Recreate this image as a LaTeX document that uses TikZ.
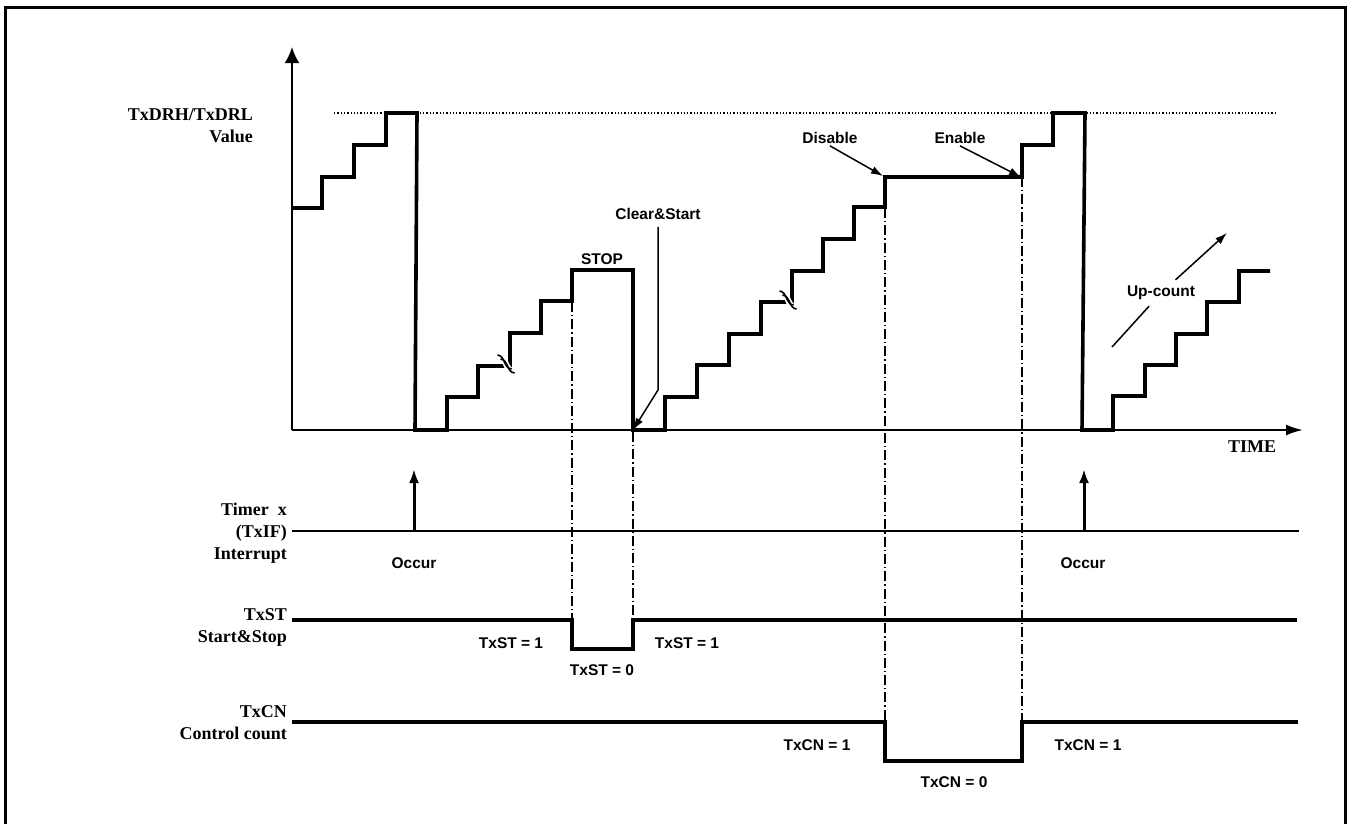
\documentclass[tikz,border=0pt]{standalone}
\usepackage{fontspec}
\setmainfont{Liberation Serif}
\setsansfont{Liberation Sans}
\usepackage{tikz}
\usetikzlibrary{arrows.meta,positioning}

\begin{document}
\begin{tikzpicture}[
    x=1pt, y=-1pt,
    lbl/.style={font=\bfseries\fontsize{18}{22}\selectfont, align=right, anchor=east, inner sep=0pt},
    tag/.style={font=\sffamily\bfseries\fontsize{15.5}{18}\selectfont, inner sep=2pt},
    frame/.style={line width=3pt},
    axis/.style={line width=2.2pt},
    stairs/.style={line width=3.6pt, line join=miter},
    wave/.style={line width=3.4pt},
    irqline/.style={line width=2.2pt},
    irq/.style={-{Latex[length=14pt, width=10pt]}, line width=3pt},
    note/.style={-{Latex[length=12pt, width=8pt]}, line width=1.5pt},
    guide/.style={line width=1.3pt, dash pattern=on 10pt off 3pt on 1.3pt off 3pt},
    maxline/.style={line width=1.2pt, dash pattern=on 1.3pt off 2pt}
]
\useasboundingbox (0,0) rectangle (1349,823);
\draw[frame] (5,830) -- (5,7) -- (1345,7) -- (1345,830);

\coordinate (origin) at (292,430);
\coordinate (ytip) at (292,47);
\coordinate (xtip) at (1303,430);
\draw[maxline] (334,113) -- (1275,113);
\draw[axis, -{Latex[length=16pt, width=15pt]}] (origin) -- (ytip);
\draw[axis, -{Latex[length=17pt, width=11pt]}] (origin) -- (xtip);

\draw[guide] (572,302) -- (572,620);
\draw[guide] (633,432) -- (633,620);
\draw[guide] (885,208) -- (885,722);
\draw[guide] (1022,177) -- (1022,722);

\draw[stairs] (292,208) -- (322,208) -- (322,177) -- (354,177) -- (354,145) -- (386,145)
    -- (386,113) -- (417,113) -- (415,430) -- (447,430) -- (447,397) -- (478,397)
    -- (478,366) -- (510,366) -- (510,333) -- (541,333) -- (541,301) -- (572,301)
    -- (572,270) -- (633,270) -- (633,430) -- (665,430) -- (665,397) -- (697,397)
    -- (697,365) -- (729,365) -- (729,334) -- (761,334) -- (761,302) -- (792,302)
    -- (792,271) -- (823,271) -- (823,239) -- (854,239) -- (854,207) -- (885,207)
    -- (885,177) -- (1022,177) -- (1022,145) -- (1053,145) -- (1053,113) -- (1085,113)
    -- (1082,430) -- (1113,430) -- (1113,396) -- (1145,396) -- (1145,365) -- (1176,365)
    -- (1176,334) -- (1207,334) -- (1207,302) -- (1239,302) -- (1239,271) -- (1270,271);

\begin{scope}[shift={(506,364)}]
\draw[white, line width=6pt] (-7,-7) .. controls (1,-6) and (-1,6) .. (7,7);
\draw[line width=1.6pt] (-8.5,-9) .. controls (-0.5,-8) and (-2.5,4) .. (5.5,5);
\draw[line width=1.6pt] (-5.5,-5) .. controls (2.5,-4) and (0.5,8) .. (8.5,9);
\end{scope}
\begin{scope}[shift={(788,300)}]
\draw[white, line width=6pt] (-7,-7) .. controls (1,-6) and (-1,6) .. (7,7);
\draw[line width=1.6pt] (-8.5,-9) .. controls (-0.5,-8) and (-2.5,4) .. (5.5,5);
\draw[line width=1.6pt] (-5.5,-5) .. controls (2.5,-4) and (0.5,8) .. (8.5,9);
\end{scope}

\node[lbl] (val) at (253,126) {TxDRH/TxDRL\\Value};
\node[lbl] (timer) at (287,533) {Timer\ \ x\\(TxIF)\\Interrupt};
\node[lbl] (txst) at (287,627) {TxST\\Start\&Stop};
\node[lbl] (txcn) at (287,723) {TxCN\\Control count};
\node[font=\bfseries\fontsize{18}{22}\selectfont] (time) at (1252,447) {TIME};

\node[tag] (stop) at (602,259) {STOP};
\node[tag] (clr) at (658,214) {Clear\&Start};
\node[tag] (dis) at (830,138) {Disable};
\node[tag] (ena) at (960,138) {Enable};
\node[tag, inner sep=6pt] (upc) at (1161,293) {Up-count};
\node[tag] (occ1) at (414,563) {Occur};
\node[tag] (occ2) at (1083,563) {Occur};
\node[tag] (st1) at (511,643) {TxST = 1};
\node[tag] (st0) at (602,670) {TxST = 0};
\node[tag] (st1b) at (687,643) {TxST = 1};
\node[tag] (cn1) at (817,745) {TxCN = 1};
\node[tag] (cn0) at (954,782) {TxCN = 0};
\node[tag] (cn1b) at (1088,745) {TxCN = 1};

\coordinate (clrbend) at (658,390);
\coordinate (clrtip) at (633,430);
\coordinate (distip) at (883,176);
\coordinate (enatip) at (1021,177);
\coordinate (ucs) at (1112,347);
\coordinate (uce) at (1227,233);
\draw[note, shorten <=5pt] (clr.south) -- (clrbend) -- (clrtip);
\draw[note] (dis.south) -- (distip);
\draw[note] (ena.south) -- (enatip);
\draw[line width=1.5pt] (ucs) -- (upc);
\draw[note] (upc) -- (uce);

\draw[irqline] (292,531) -- (1299,531);
\coordinate (irq1) at (414,531);
\coordinate (irq1t) at (414,469);
\coordinate (irq2) at (1084,531);
\coordinate (irq2t) at (1084,469);
\draw[irq] (irq1) -- (irq1t);
\draw[irq] (irq2) -- (irq2t);

\draw[wave] (292,620) -- (572,620) -- (572,649) -- (633,649) -- (633,620) -- (1297,620);
\draw[wave] (292,722) -- (885,722) -- (885,761) -- (1022,761) -- (1022,722) -- (1298,722);
\end{tikzpicture}
\end{document}
